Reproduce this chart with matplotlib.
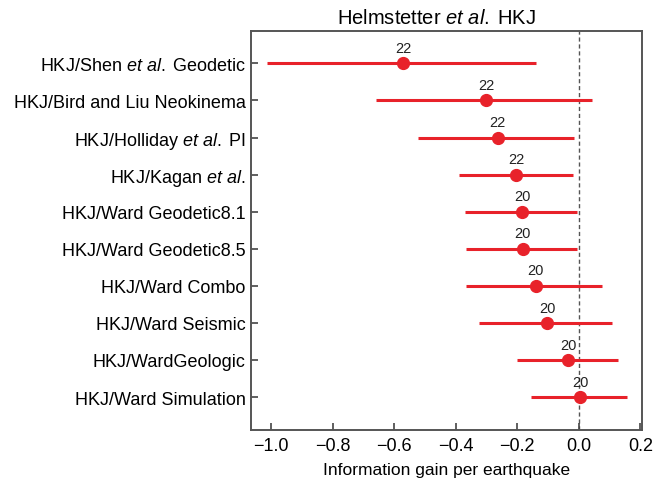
import numpy as np
import matplotlib.pyplot as plt

plt.rcParams['font.family'] = 'Liberation Sans'
plt.rcParams['mathtext.fontset'] = 'custom'
plt.rcParams['mathtext.rm'] = 'Liberation Sans'
plt.rcParams['mathtext.it'] = 'Liberation Sans:italic'

# model pairs, top to bottom
models = [r'HKJ/Shen $\it{et\ al.}\;$Geodetic',
          'HKJ/Bird and Liu Neokinema',
          r'HKJ/Holliday $\it{et\ al.}\;$PI',
          r'HKJ/Kagan $\it{et\ al.}$',
          'HKJ/Ward Geodetic8.1',
          'HKJ/Ward Geodetic8.5',
          'HKJ/Ward Combo',
          'HKJ/Ward Seismic',
          'HKJ/WardGeologic',
          'HKJ/Ward Simulation']
gain = [-0.571, -0.302, -0.264, -0.203, -0.184, -0.182, -0.141, -0.103, -0.035, 0.005]
lower = [-1.013, -0.658, -0.522, -0.391, -0.370, -0.366, -0.367, -0.324, -0.202, -0.155]
upper = [-0.140, 0.043, -0.016, -0.020, -0.005, -0.005, 0.075, 0.106, 0.127, 0.156]
n_eq = [22, 22, 22, 22, 20, 20, 20, 20, 20, 20]

red = '#e8222a'
fig = plt.figure(figsize=(6.65, 4.85), dpi=100)
ax = fig.add_axes([0.378, 0.112, 0.587, 0.821])

y = np.arange(len(models))
gain = np.array(gain)
ax.axvline(0, color='#555555', lw=1, ls=(0, (3, 2)), zorder=1)
ax.errorbar(gain, y, xerr=[gain - np.array(lower), np.array(upper) - gain],
            fmt='o', color=red, ms=8.5, lw=2.2, capsize=0, zorder=3)

for xi, yi, n in zip(gain, y, n_eq):
    ax.annotate(str(n), (xi, yi), xytext=(0, 6), textcoords='offset points',
                ha='center', va='bottom', fontsize=10.5, color='#222222')

ax.set_yticks(y)
ax.set_yticklabels(models, fontsize=13)
ax.set_ylim(len(models) - 0.12, -0.86)
ax.set_xlim(-1.064, 0.204)
ax.set_xticks([-1.0, -0.8, -0.6, -0.4, -0.2, 0.0, 0.2])
ax.set_xticklabels([f'{v:.1f}'.replace('-', '\u2212') for v in ax.get_xticks()], fontsize=13)
ax.tick_params(direction='in', length=5, width=1.2, color='#444444', pad=5)
ax.tick_params(axis='y', pad=4)
for s in ax.spines.values():
    s.set_color('#555555')
    s.set_linewidth(1.4)

ax.set_xlabel('Information gain per earthquake', fontsize=12.5, labelpad=6)
ax.set_title(r'Helmstetter $\it{et\ al.}\;$HKJ', fontsize=14.5, pad=6, x=0.475)

fig.savefig('out.png', dpi=100)
